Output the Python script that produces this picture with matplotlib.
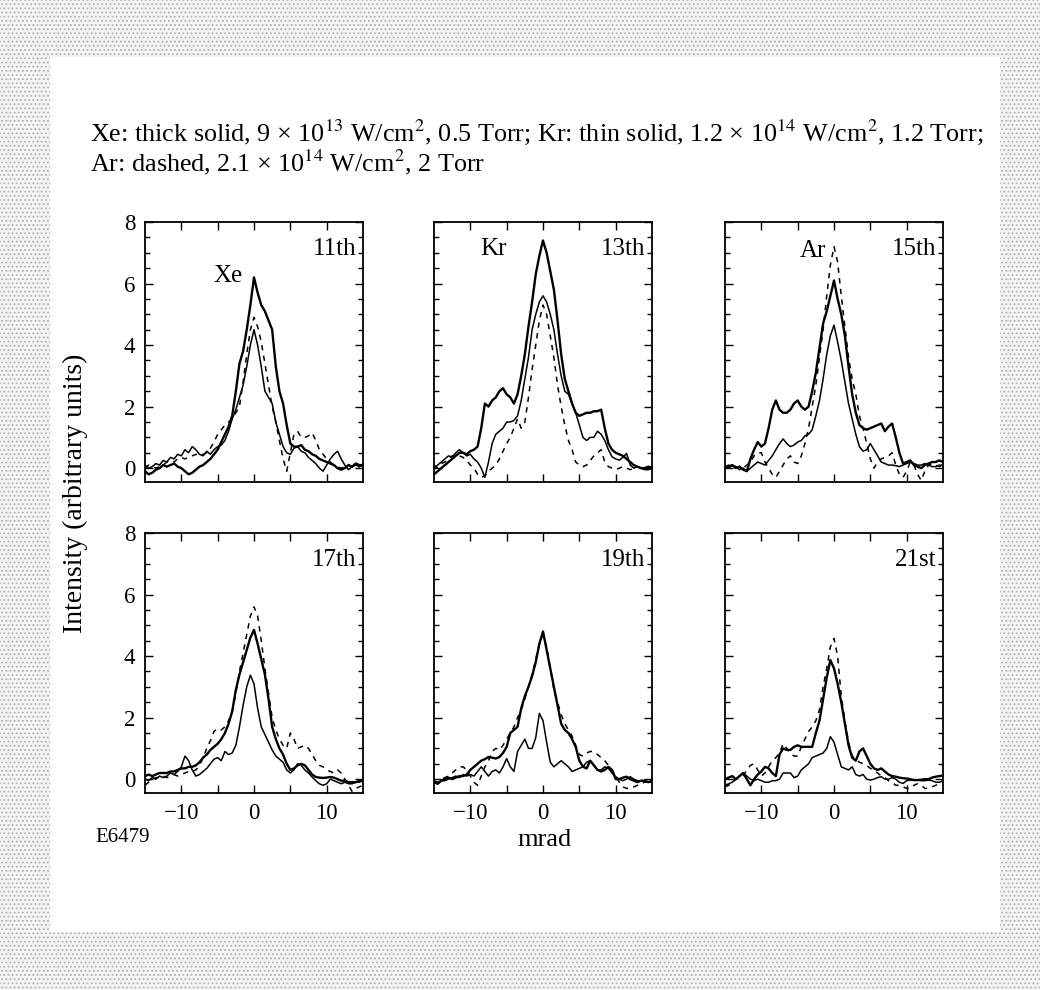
import numpy as np
import matplotlib
matplotlib.use("Agg")
import matplotlib.pyplot as plt
from matplotlib.patches import Rectangle
from matplotlib.ticker import MultipleLocator, FixedLocator

plt.rcParams['font.family'] = ['Liberation Serif', 'DejaVu Serif']
plt.rcParams['mathtext.fontset'] = 'stix'
plt.rcParams['hatch.linewidth'] = 0.8

# ---------------- data ----------------
mrad = [-15.0, -14.5, -14.0, -13.5, -13.0, -12.5, -12.0, -11.5, -11.0, -10.5, -10.0,
        -9.5, -9.0, -8.5, -8.0, -7.5, -7.0, -6.5, -6.0, -5.5, -5.0,
        -4.5, -4.0, -3.5, -3.0, -2.5, -2.0, -1.5, -1.0, -0.5, 0.0,
        0.5, 1.0, 1.5, 2.0, 2.5, 3.0, 3.5, 4.0, 4.5, 5.0,
        5.5, 6.0, 6.5, 7.0, 7.5, 8.0, 8.5, 9.0, 9.5, 10.0,
        10.5, 11.0, 11.5, 12.0, 12.5, 13.0, 13.5, 14.0, 14.5, 15.0]

harmonics = ['11th', '13th', '15th', '17th', '19th', '21st']

xe_11 = [-0.1, -0.2, -0.15, -0.05, 0.0, 0.1, 0.05, 0.1, 0.15, 0.05, 0.0,
         -0.1, -0.2, -0.15, -0.05, 0.05, 0.1, 0.2, 0.3, 0.45, 0.6,
         0.85, 1.1, 1.35, 1.7, 2.5, 3.4, 3.8, 4.5, 5.3, 6.2,
         5.7, 5.3, 5.1, 4.8, 4.5, 3.3, 2.5, 2.1, 1.4, 0.8,
         0.7, 0.7, 0.75, 0.6, 0.55, 0.45, 0.4, 0.3, 0.25, 0.2,
         0.15, 0.1, 0.0, -0.05, 0.0, 0.1, 0.05, 0.15, 0.1, 0.1]
kr_11 = [0.1, 0.0, 0.05, 0.15, 0.1, 0.25, 0.2, 0.35, 0.3, 0.45, 0.4,
         0.6, 0.5, 0.7, 0.6, 0.45, 0.4, 0.55, 0.45, 0.6, 0.7,
         0.75, 0.9, 1.2, 1.6, 1.9, 2.3, 2.7, 3.3, 4.0, 4.5,
         4.0, 3.3, 2.5, 2.3, 2.1, 1.5, 1.1, 0.7, 0.5, 0.45,
         0.65, 0.7, 0.55, 0.5, 0.35, 0.25, 0.15, 0.0, -0.1, 0.1,
         0.3, 0.45, 0.55, 0.3, 0.1, -0.05, 0.05, 0.1, 0.05, 0.1]
ar_11 = [0.0, 0.1, 0.05, 0.0, 0.05, 0.1, 0.2, 0.25, 0.2, 0.3, 0.35,
         0.3, 0.35, 0.4, 0.45, 0.4, 0.45, 0.5, 0.65, 0.85, 1.1,
         1.25, 1.4, 1.5, 1.6, 1.8, 2.0, 2.8, 3.7, 4.5, 4.9,
         4.6, 4.1, 3.4, 2.7, 2.0, 1.5, 0.9, 0.3, -0.1, 0.5,
         1.1, 1.2, 1.0, 1.0, 1.05, 1.15, 0.9, 0.6, 0.45, 0.3,
         0.2, 0.1, 0.05, 0.0, 0.05, 0.1, 0.05, 0.0, 0.05, 0.1]

xe_13 = [-0.2, -0.1, 0.0, 0.1, 0.2, 0.3, 0.4, 0.5, 0.5, 0.45, 0.55,
         0.6, 0.7, 1.3, 2.1, 2.0, 2.2, 2.3, 2.5, 2.6, 2.4,
         2.3, 2.1, 2.4, 3.0, 3.7, 4.6, 5.4, 6.3, 6.9, 7.4,
         7.0, 6.4, 5.8, 4.8, 3.7, 2.9, 2.5, 2.1, 1.8, 1.7,
         1.75, 1.8, 1.8, 1.85, 1.85, 1.9, 1.3, 0.8, 0.6, 0.5,
         0.45, 0.4, 0.3, 0.2, 0.1, 0.05, 0.0, 0.0, 0.05, 0.0]
kr_13 = [0.0, 0.1, 0.2, 0.3, 0.4, 0.35, 0.5, 0.6, 0.5, 0.4, 0.45,
         0.3, 0.2, 0.0, -0.3, 0.2, 0.8, 1.1, 1.2, 1.3, 1.5,
         1.5, 1.55, 1.7, 2.2, 2.9, 3.6, 4.5, 5.0, 5.4, 5.6,
         5.4, 5.0, 4.5, 3.7, 3.0, 2.5, 2.4, 2.1, 1.8, 1.4,
         1.0, 0.9, 1.0, 1.0, 1.2, 1.1, 0.9, 0.6, 0.37, 0.3,
         0.26, 0.35, 0.48, 0.1, 0.0, 0.05, 0.0, -0.05, -0.05, 0.0]
ar_13 = [0.1, 0.0, 0.15, 0.2, 0.3, 0.4, 0.45, 0.4, 0.35, 0.25, 0.1,
         0.0, -0.2, -0.3, -0.25, -0.1, 0.0, 0.1, 0.3, 0.55, 0.8,
         1.0, 1.3, 1.6, 1.3, 1.5, 2.3, 3.2, 4.0, 4.8, 5.3,
         5.0, 4.3, 3.6, 2.7, 2.0, 1.4, 0.9, 0.6, 0.2, 0.1,
         0.05, 0.1, 0.25, 0.4, 0.5, 0.6, 0.2, 0.05, 0.0, -0.05,
         0.0, 0.05, 0.0, -0.05, 0.0, 0.05, 0.0, -0.05, 0.0, 0.05]

xe_15 = [0.0, 0.05, 0.1, 0.0, 0.05, -0.05, -0.1, 0.3, 0.6, 0.85, 0.7,
         0.8, 1.3, 1.9, 2.2, 1.9, 1.8, 1.8, 1.9, 2.1, 2.2,
         2.0, 1.9, 2.0, 2.5, 3.1, 3.9, 4.7, 5.1, 5.6, 6.1,
         5.5, 5.0, 4.3, 3.3, 2.4, 1.8, 1.4, 1.3, 1.25, 1.3,
         1.35, 1.4, 1.45, 1.2, 1.35, 1.45, 1.0, 0.5, 0.15, 0.2,
         0.25, 0.1, 0.05, 0.0, 0.1, 0.15, 0.2, 0.2, 0.25, 0.2]
kr_15 = [0.05, 0.0, 0.1, 0.05, -0.05, 0.0, -0.1, 0.0, 0.1, 0.2, 0.15,
         0.1, 0.25, 0.4, 0.6, 0.8, 0.95, 0.8, 0.7, 0.75, 0.85,
         0.9, 1.05, 1.1, 1.25, 1.7, 2.2, 2.9, 3.7, 4.3, 4.65,
         4.1, 3.5, 2.8, 2.1, 1.6, 1.1, 0.7, 0.55, 0.6, 0.8,
         0.6, 0.4, 0.2, 0.15, 0.1, 0.1, 0.08, 0.05, 0.1, 0.15,
         0.2, 0.15, 0.1, 0.1, 0.15, 0.1, 0.05, 0.05, 0.1, 0.1]
ar_15 = [0.05, 0.1, 0.05, 0.0, 0.05, 0.0, 0.1, 0.2, 0.4, 0.5, 0.5,
         0.2, 0.0, -0.2, -0.3, -0.1, 0.1, 0.3, 0.4, 0.2, 0.15,
         0.4, 0.8, 1.3, 2.0, 2.7, 3.6, 4.5, 5.6, 6.6, 7.2,
         6.7, 5.6, 4.6, 3.6, 2.9, 2.4, 1.7, 1.3, 0.8, 0.3,
         0.0, 0.2, 0.3, 0.35, 0.4, 0.5, 0.1, -0.2, -0.3, -0.1,
         0.2, 0.1, -0.2, -0.4, -0.1, 0.1, 0.15, 0.1, 0.05, 0.1]

xe_17 = [0.1, 0.15, 0.1, 0.15, 0.2, 0.2, 0.2, 0.25, 0.25, 0.3, 0.35,
         0.35, 0.4, 0.4, 0.45, 0.55, 0.7, 0.8, 0.95, 1.05, 1.15,
         1.3, 1.5, 1.8, 2.2, 2.9, 3.4, 3.8, 4.2, 4.6, 4.85,
         4.4, 3.9, 3.4, 2.6, 1.7, 1.3, 1.0, 0.8, 0.5, 0.3,
         0.35, 0.45, 0.5, 0.45, 0.3, 0.15, 0.07, 0.05, 0.04, 0.05,
         0.07, 0.05, 0.0, -0.05, -0.05, -0.1, -0.1, -0.1, -0.05, -0.05]
kr_17 = [0.0, -0.05, 0.05, 0.0, 0.1, 0.05, 0.1, 0.2, 0.15, 0.25, 0.4,
         0.75, 0.6, 0.3, 0.1, 0.15, 0.25, 0.35, 0.5, 0.65, 0.7,
         0.6, 0.9, 0.8, 0.85, 1.1, 1.7, 2.4, 3.0, 3.38, 3.1,
         2.3, 1.7, 1.45, 1.2, 0.95, 0.75, 0.65, 0.55, 0.3, 0.2,
         0.3, 0.5, 0.45, 0.3, 0.2, 0.07, -0.05, -0.15, -0.2, -0.15,
         0.0, -0.05, -0.1, -0.15, -0.1, -0.15, -0.15, -0.1, -0.1, -0.05]
ar_17 = [-0.2, -0.1, 0.0, 0.05, 0.05, 0.1, 0.05, 0.1, 0.15, 0.1, 0.15,
         0.2, 0.25, 0.25, 0.3, 0.45, 0.7, 1.0, 1.25, 1.55, 1.65,
         1.6, 1.7, 1.9, 2.2, 2.8, 3.5, 4.1, 4.7, 5.3, 5.6,
         5.3, 4.5, 3.6, 2.8, 2.0, 1.6, 1.3, 1.1, 1.0, 1.5,
         1.3, 1.0, 1.05, 1.1, 1.0, 0.8, 0.6, 0.45, 0.4, 0.3,
         0.25, 0.2, 0.3, 0.2, 0.0, -0.2, -0.4, -0.3, -0.25, -0.2]

xe_19 = [-0.1, -0.15, -0.05, 0.0, 0.05, 0.0, 0.05, 0.1, 0.1, 0.15, 0.3,
         0.4, 0.5, 0.6, 0.65, 0.72, 0.7, 0.67, 0.72, 0.85, 1.05,
         1.5, 1.6, 1.7, 2.3, 2.7, 3.0, 3.35, 3.8, 4.4, 4.8,
         4.2, 3.6, 3.0, 2.4, 1.8, 1.6, 1.5, 1.3, 1.05, 0.6,
         0.4, 0.35, 0.6, 0.45, 0.3, 0.25, 0.3, 0.4, 0.3, 0.0,
         0.0, 0.05, 0.08, 0.0, -0.05, -0.1, -0.05, -0.05, -0.1, -0.05]
kr_19 = [-0.1, -0.15, -0.05, -0.05, 0.0, 0.05, 0.1, 0.05, 0.15, 0.1, 0.15,
         0.1, 0.25, 0.4, 0.25, 0.1, 0.25, 0.3, 0.2, 0.4, 0.67,
         0.4, 0.25, 0.9, 1.1, 1.3, 1.0, 1.0, 1.35, 2.14, 1.9,
         1.2, 0.55, 0.4, 0.5, 0.6, 0.5, 0.4, 0.25, 0.3, 0.35,
         0.4, 0.55, 0.6, 0.45, 0.3, 0.3, 0.4, 0.35, 0.2, 0.08,
         0.0, -0.05, 0.0, 0.08, 0.0, -0.05, -0.05, -0.1, -0.1, -0.1]
ar_19 = [-0.05, -0.1, 0.0, 0.05, 0.1, 0.2, 0.3, 0.4, 0.4, 0.3, 0.1,
         -0.1, -0.2, 0.1, 0.4, 0.6, 0.9, 1.0, 0.95, 1.1, 1.3,
         1.5, 1.7, 2.0, 2.25, 2.6, 3.0, 3.4, 3.9, 4.4, 4.7,
         4.3, 3.6, 2.9, 2.5, 2.1, 1.8, 1.6, 1.4, 1.1, 0.8,
         0.75, 0.85, 0.9, 0.9, 0.8, 0.7, 0.6, 0.45, 0.3, 0.1,
         -0.1, -0.25, -0.3, -0.3, -0.25, -0.2, -0.15, -0.1, -0.1, -0.05]

xe_21 = [0.0, 0.05, 0.1, 0.0, 0.1, 0.2, 0.0, -0.2, 0.0, 0.15, 0.25,
         0.4, 0.35, 0.2, 0.1, 0.8, 1.0, 0.95, 0.95, 1.05, 1.1,
         1.05, 1.05, 1.05, 1.05, 1.5, 1.9, 2.6, 3.3, 3.87, 3.6,
         3.1, 2.5, 1.8, 1.1, 0.7, 0.6, 0.9, 1.0, 0.75, 0.5,
         0.35, 0.3, 0.35, 0.25, 0.15, 0.1, 0.08, 0.05, 0.03, 0.02,
         0.0, -0.03, -0.03, -0.02, 0.0, 0.0, 0.05, 0.08, 0.1, 0.12]
kr_21 = [-0.2, -0.15, -0.1, 0.0, 0.1, 0.2, 0.1, 0.0, -0.05, 0.0, -0.05,
         -0.1, -0.1, -0.05, -0.05, 0.0, 0.2, 0.2, 0.2, 0.05, 0.1,
         0.3, 0.4, 0.5, 0.7, 0.75, 0.8, 0.85, 1.0, 1.38, 1.2,
         0.8, 0.4, 0.35, 0.3, 0.4, 0.15, 0.1, 0.15, 0.0, -0.03,
         0.0, 0.05, 0.08, 0.0, 0.0, 0.05, 0.0, -0.1, -0.14, -0.05,
         -0.03, -0.03, -0.03, -0.05, -0.05, -0.03, -0.05, -0.1, -0.1, -0.05]
ar_21 = [-0.25, -0.2, -0.1, 0.0, 0.05, 0.1, 0.3, 0.45, 0.5, 0.3, 0.1,
         0.2, 0.4, 0.6, 0.7, 0.85, 1.15, 1.0, 0.85, 0.75, 0.75,
         1.05, 1.3, 1.55, 1.7, 1.9, 2.25, 3.0, 3.6, 4.3, 4.57,
         4.0, 2.7, 1.9, 1.2, 0.75, 0.65, 0.55, 0.5, 0.45, 0.35,
         0.3, 0.2, 0.1, 0.05, -0.05, -0.1, -0.2, -0.2, -0.25, -0.3,
         -0.3, -0.2, -0.15, -0.2, -0.3, -0.3, -0.25, -0.2, -0.15, -0.1]

xe_all = [xe_11, xe_13, xe_15, xe_17, xe_19, xe_21]
kr_all = [kr_11, kr_13, kr_15, kr_17, kr_19, kr_21]
ar_all = [ar_11, ar_13, ar_15, ar_17, ar_19, ar_21]

x_ticks = [-10, -5, 0, 5, 10]
x_ticklabels = ['\u221210', '', '0', '', '10']
y_ticks = [0, 2, 4, 6, 8]
y_ticklabels = ['0', '2', '4', '6', '8']

header1 = ('Xe: thick solid, 9 \u00d7 10$^{13}$ W/cm$^{2}$, 0.5 Torr; '
           'Kr: thin solid, 1.2 \u00d7 10$^{14}$ W/cm$^{2}$, 1.2 Torr;')
header2 = 'Ar: dashed, 2.1 \u00d7 10$^{14}$ W/cm$^{2}$, 2 Torr'

# ---------------- figure ----------------
W, H = 1040, 990
fig = plt.figure(figsize=(W / 100, H / 100), dpi=100)
fig.patch.set_facecolor('white')


def fx(px):
    return px / W


def fy(py):
    return 1 - py / H


# halftone-like border
bg = Rectangle((0, 0), 1, 1, transform=fig.transFigure, facecolor='#f4f4f4',
               edgecolor='#b0b0b0', hatch='....', lw=0, zorder=-10)
fig.patches.append(bg)
inner = Rectangle((fx(50), fy(932)), fx(1000) - fx(50), fy(57) - fy(932),
                  transform=fig.transFigure, facecolor='white', edgecolor='none',
                  lw=0, zorder=-9)
fig.patches.append(inner)

col_left = [145, 434, 725]
row_top = [222, 533]
ax_w, ax_h = 218, 260

for i in range(6):
    r, c = divmod(i, 3)
    l = col_left[c]
    t = row_top[r]
    ax = fig.add_axes([fx(l), fy(t + ax_h), ax_w / W, ax_h / H])
    ax.plot(mrad, kr_all[i], color='black', lw=1.1)
    ax.plot(mrad, ar_all[i], color='black', lw=1.1, dashes=(3.5, 3.5))
    ax.plot(mrad, xe_all[i], color='black', lw=1.7)
    ax.set_xlim(-15, 15)
    ax.set_ylim(-0.45, 8)
    ax.xaxis.set_major_locator(FixedLocator(x_ticks))
    ax.yaxis.set_major_locator(FixedLocator(y_ticks))
    ax.yaxis.set_minor_locator(MultipleLocator(0.5))
    ax.tick_params(which='both', direction='in', top=True, right=True,
                   labelsize=16.5, width=1.0)
    ax.tick_params(which='major', length=6, pad=7)
    ax.tick_params(which='minor', length=3.5)
    if r == 1:
        ax.set_xticklabels(x_ticklabels)
    else:
        ax.set_xticklabels([])
    if c == 0:
        ax.set_yticklabels(y_ticklabels)
    else:
        ax.set_yticklabels([])
    for sp in ax.spines.values():
        sp.set_linewidth(1.3)
    ax.text(0.97, 0.94, harmonics[i], transform=ax.transAxes, ha='right',
            va='top', fontsize=18)

# species labels
fig.text(fx(228), fy(276), 'Xe', ha='center', va='center', fontsize=18)
fig.text(fx(493), fy(249), 'Kr', ha='center', va='center', fontsize=18)
fig.text(fx(813), fy(251), 'Ar', ha='center', va='center', fontsize=18)

fig.text(fx(90), fy(141), header1, ha='left', va='baseline', fontsize=18.8)
fig.text(fx(90), fy(171), header2, ha='left', va='baseline', fontsize=18.8)

fig.text(fx(75), fy(493), 'Intensity (arbitrary units)', rotation=90,
         ha='center', va='center', fontsize=20)
fig.text(fx(545), fy(840), 'mrad', ha='center', va='center', fontsize=19)
fig.text(fx(95), fy(838), 'E6479', ha='left', va='center', fontsize=15)

fig.savefig('out.png', dpi=100, facecolor=fig.get_facecolor())
